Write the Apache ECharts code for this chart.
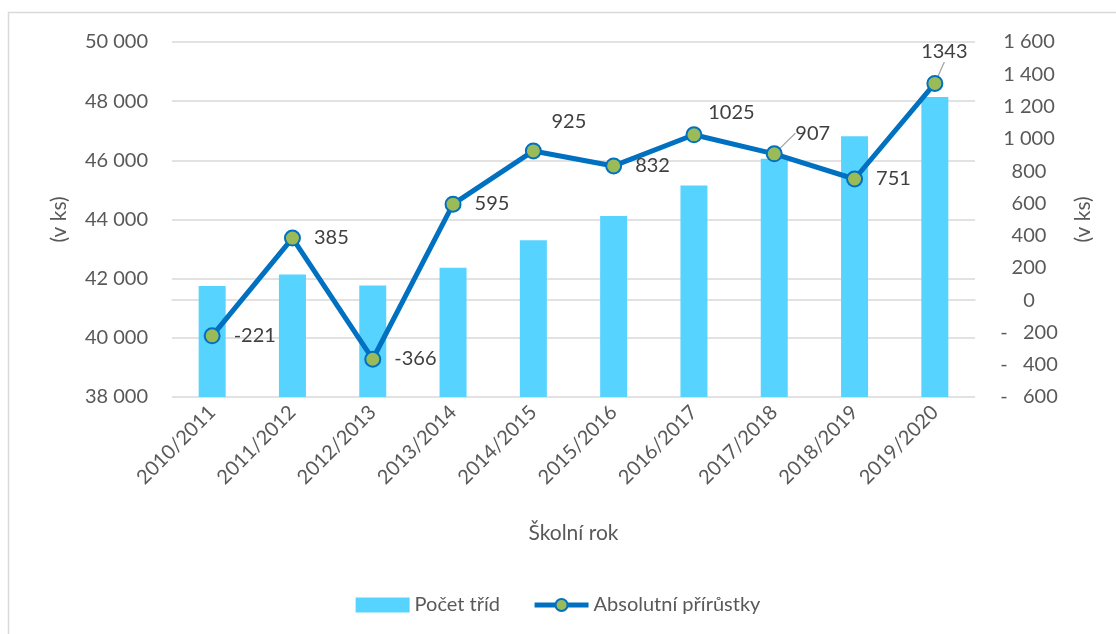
<!DOCTYPE html>
<html>
<head>
<meta charset="utf-8">
<script src="https://cdn.jsdelivr.net/npm/echarts@6/dist/echarts.min.js"></script>
<style>
  html, body { margin: 0; padding: 0; background: #fff; }
  #main { width: 1116px; height: 634px; }
</style>
</head>
<body>
<div id="main"></div>
<script>
// data
var skolniRok = ['2010/2011', '2011/2012', '2012/2013', '2013/2014', '2014/2015',
                 '2015/2016', '2016/2017', '2017/2018', '2018/2019', '2019/2020'];
var pocetTrid = [41755, 42140, 41770, 42365, 43300, 44115, 45150, 46055, 46810, 48140];
var prirustky = [-221, 385, -366, 595, 925, 832, 1025, 907, 751, 1343];

var font = 'Lato, "Noto Sans", sans-serif';

// thousands with a space, like the Czech Excel format
function fmt(v) {
    return String(Math.abs(v)).replace(/\B(?=(\d{3})+(?!\d))/g, ' ');
}

// where each data label sits (relative to the marker box)
var rightLbl = { position: [30, 8], align: 'left', verticalAlign: 'middle' };
var lblPlace = [
    rightLbl, rightLbl, rightLbl, rightLbl,
    { position: [44, -21], align: 'center', verticalAlign: 'middle' },
    rightLbl,
    { position: [46, -14], align: 'center', verticalAlign: 'middle' },
    { position: [47, -12], align: 'center', verticalAlign: 'middle', leader: true },
    rightLbl,
    { position: [18, -23], align: 'center', verticalAlign: 'middle', leader: true }
];

var lineData = prirustky.map(function (v, i) {
    var p = lblPlace[i];
    var item = {
        value: v,
        label: { position: p.position, align: p.align, verticalAlign: p.verticalAlign }
    };
    if (p.leader) {
        item.labelLine = { show: true, lineStyle: { color: '#A6A6A6', width: 1.3 } };
    }
    return item;
});

var myChart = echarts.init(document.getElementById('main'), null, { renderer: 'canvas' });

var option = {
    backgroundColor: '#fff',
    animation: false,
    textStyle: { fontFamily: font },
    graphic: [
        {
            type: 'rect',
            shape: { x: 8.5, y: 12.5, width: 1200, height: 700 },
            style: { fill: 'none', stroke: '#D9D9D9', lineWidth: 1.5 },
            silent: true
        }
    ],
    grid: { left: 172, right: 141, top: 42, bottom: 237 },
    legend: {
        bottom: 14,
        left: 'center',
        itemWidth: 54,
        itemHeight: 15,
        itemGap: 32,
        textStyle: { fontFamily: font, fontSize: 20, color: '#595959' },
        data: [
            { name: 'Počet tříd', icon: 'rect' },
            { name: 'Absolutní přírůstky', lineStyle: { width: 5 } }
        ]
    },
    xAxis: {
        type: 'category',
        data: skolniRok,
        name: 'Školní rok',
        nameLocation: 'middle',
        nameGap: 126,
        nameTextStyle: { fontFamily: font, fontSize: 21, color: '#595959' },
        axisLine: { lineStyle: { color: '#D9D9D9', width: 1.5 } },
        axisTick: { show: false },
        axisLabel: { rotate: 45, margin: 12, fontFamily: font, fontSize: 20, color: '#595959' }
    },
    yAxis: [
        {
            type: 'value',
            min: 38000,
            max: 50000,
            interval: 2000,
            name: '(v ks)',
            nameLocation: 'middle',
            nameGap: 102,
            nameTextStyle: { fontFamily: font, fontSize: 21, color: '#595959' },
            axisLine: { show: false },
            axisTick: { show: false },
            axisLabel: {
                margin: 24, fontFamily: font, fontSize: 20, color: '#595959',
                formatter: function (v) { return fmt(v); }
            },
            splitLine: { lineStyle: { color: '#D9D9D9', width: 1.5 } }
        },
        {
            type: 'value',
            min: -600,
            max: 1600,
            interval: 200,
            name: '(v ks)',
            nameLocation: 'middle',
            nameGap: 98,
            nameRotate: 90,
            nameTextStyle: { fontFamily: font, fontSize: 21, color: '#595959' },
            axisLine: { show: false },
            axisTick: { show: false },
            splitLine: { show: false },
            axisLabel: {
                margin: 54, align: 'center', fontFamily: font, fontSize: 20, color: '#595959',
                formatter: function (v) { return v < 0 ? '-   ' + fmt(v) : fmt(v); }
            }
        }
    ],
    series: [
        {
            name: 'Počet tříd',
            type: 'bar',
            yAxisIndex: 0,
            barWidth: 27,
            itemStyle: { color: '#57D3FF' },
            data: pocetTrid
        },
        {
            name: 'Absolutní přírůstky',
            type: 'line',
            yAxisIndex: 1,
            symbol: 'circle',
            symbolSize: 15,
            lineStyle: { color: '#0070C0', width: 5 },
            itemStyle: { color: '#9BBB59', borderColor: '#0070C0', borderWidth: 2 },
            label: {
                show: true,
                fontFamily: font,
                fontSize: 20,
                color: '#404040'
            },
            data: lineData,
            z: 3
        }
    ]
};

myChart.setOption(option);
</script>
</body>
</html>
